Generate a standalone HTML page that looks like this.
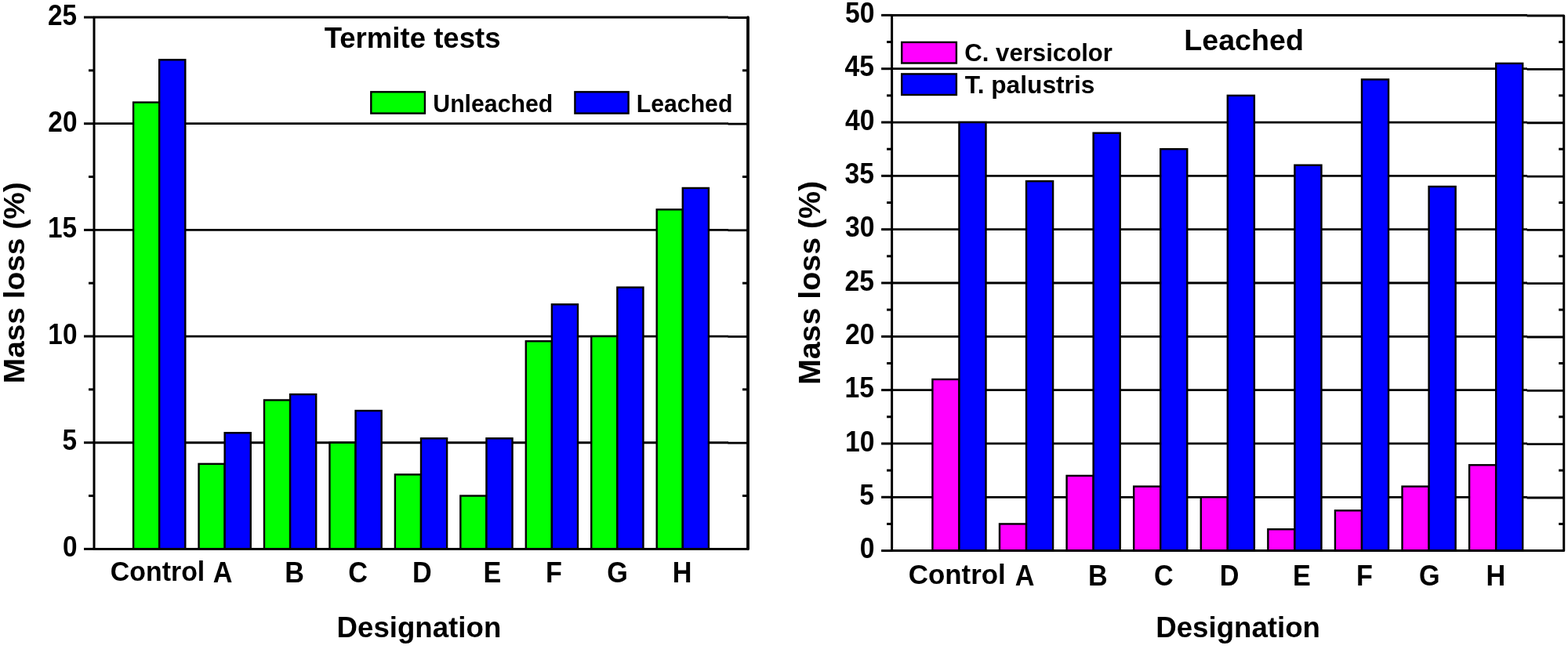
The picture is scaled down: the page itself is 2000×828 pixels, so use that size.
<!DOCTYPE html><html><head><meta charset="utf-8"><title>Mass loss charts</title><style>html,body{margin:0;padding:0;background:#fff;overflow:hidden}svg{display:block}text{font-family:"Liberation Sans",Arial,sans-serif;font-weight:bold;fill:#000}</style></head><body>
<svg width="2000" height="828" viewBox="0 0 2000 828">
<rect width="2000" height="828" fill="#fff"/>
<line x1="120" y1="564.73" x2="929" y2="564.73" stroke="#000" stroke-width="2.8"/>
<line x1="928.5" y1="565.13" x2="954.0" y2="565.13" stroke="#000" stroke-width="2.8"/>
<line x1="120" y1="429.06" x2="929" y2="429.06" stroke="#000" stroke-width="2.8"/>
<line x1="928.5" y1="429.46" x2="954.0" y2="429.46" stroke="#000" stroke-width="2.8"/>
<line x1="120" y1="293.39" x2="929" y2="293.39" stroke="#000" stroke-width="2.8"/>
<line x1="928.5" y1="293.79" x2="954.0" y2="293.79" stroke="#000" stroke-width="2.8"/>
<line x1="120" y1="157.72" x2="929" y2="157.72" stroke="#000" stroke-width="2.8"/>
<line x1="928.5" y1="158.12" x2="954.0" y2="158.12" stroke="#000" stroke-width="2.8"/>
<rect x="170.10" y="130.59" width="33.10" height="569.81" fill="#00ff00" stroke="#000" stroke-width="2.4"/>
<rect x="203.20" y="76.32" width="33.10" height="624.08" fill="#0000ff" stroke="#000" stroke-width="2.4"/>
<rect x="253.55" y="591.86" width="33.10" height="108.54" fill="#00ff00" stroke="#000" stroke-width="2.4"/>
<rect x="286.65" y="552.25" width="33.10" height="148.15" fill="#0000ff" stroke="#000" stroke-width="2.4"/>
<rect x="337.00" y="510.46" width="33.10" height="189.94" fill="#00ff00" stroke="#000" stroke-width="2.4"/>
<rect x="370.10" y="503.14" width="33.10" height="197.26" fill="#0000ff" stroke="#000" stroke-width="2.4"/>
<rect x="420.45" y="564.73" width="33.10" height="135.67" fill="#00ff00" stroke="#000" stroke-width="2.4"/>
<rect x="453.55" y="524.03" width="33.10" height="176.37" fill="#0000ff" stroke="#000" stroke-width="2.4"/>
<rect x="503.90" y="605.43" width="33.10" height="94.97" fill="#00ff00" stroke="#000" stroke-width="2.4"/>
<rect x="537.00" y="559.30" width="33.10" height="141.10" fill="#0000ff" stroke="#000" stroke-width="2.4"/>
<rect x="587.35" y="632.56" width="33.10" height="67.84" fill="#00ff00" stroke="#000" stroke-width="2.4"/>
<rect x="620.45" y="559.30" width="33.10" height="141.10" fill="#0000ff" stroke="#000" stroke-width="2.4"/>
<rect x="670.80" y="435.30" width="33.10" height="265.10" fill="#00ff00" stroke="#000" stroke-width="2.4"/>
<rect x="703.90" y="388.36" width="33.10" height="312.04" fill="#0000ff" stroke="#000" stroke-width="2.4"/>
<rect x="754.25" y="429.06" width="33.10" height="271.34" fill="#00ff00" stroke="#000" stroke-width="2.4"/>
<rect x="787.35" y="366.65" width="33.10" height="333.75" fill="#0000ff" stroke="#000" stroke-width="2.4"/>
<rect x="837.70" y="267.34" width="33.10" height="433.06" fill="#00ff00" stroke="#000" stroke-width="2.4"/>
<rect x="870.80" y="239.94" width="33.10" height="460.46" fill="#0000ff" stroke="#000" stroke-width="2.4"/>
<path d="M929.00,22.05 H120 V700.40 H954.0 V22.45 H928.50" fill="none" stroke="#000" stroke-width="3.0" stroke-linejoin="round"/>
<line x1="954.0" y1="22.05" x2="954.0" y2="700.40" stroke="#000" stroke-width="3.6" stroke-linecap="round"/>
<line x1="107" y1="700.40" x2="120" y2="700.40" stroke="#000" stroke-width="3.0"/>
<line x1="113" y1="632.56" x2="120" y2="632.56" stroke="#000" stroke-width="3.0"/>
<line x1="947.0" y1="632.56" x2="954.0" y2="632.56" stroke="#000" stroke-width="3.0"/>
<line x1="107" y1="564.73" x2="120" y2="564.73" stroke="#000" stroke-width="3.0"/>
<line x1="113" y1="496.89" x2="120" y2="496.89" stroke="#000" stroke-width="3.0"/>
<line x1="947.0" y1="496.89" x2="954.0" y2="496.89" stroke="#000" stroke-width="3.0"/>
<line x1="107" y1="429.06" x2="120" y2="429.06" stroke="#000" stroke-width="3.0"/>
<line x1="113" y1="361.22" x2="120" y2="361.22" stroke="#000" stroke-width="3.0"/>
<line x1="947.0" y1="361.22" x2="954.0" y2="361.22" stroke="#000" stroke-width="3.0"/>
<line x1="107" y1="293.39" x2="120" y2="293.39" stroke="#000" stroke-width="3.0"/>
<line x1="113" y1="225.55" x2="120" y2="225.55" stroke="#000" stroke-width="3.0"/>
<line x1="947.0" y1="225.55" x2="954.0" y2="225.55" stroke="#000" stroke-width="3.0"/>
<line x1="107" y1="157.72" x2="120" y2="157.72" stroke="#000" stroke-width="3.0"/>
<line x1="113" y1="89.88" x2="120" y2="89.88" stroke="#000" stroke-width="3.0"/>
<line x1="947.0" y1="89.88" x2="954.0" y2="89.88" stroke="#000" stroke-width="3.0"/>
<line x1="107" y1="22.05" x2="120" y2="22.05" stroke="#000" stroke-width="3.0"/>
<text transform="translate(80.07,710.19) scale(1,1.1100)" font-size="33.40">0</text>
<text transform="translate(79.40,574.34) scale(1,1.1100)" font-size="33.40">5</text>
<text transform="translate(61.36,438.85) scale(1,1.1100)" font-size="33.40">10</text>
<text transform="translate(61.03,303.00) scale(1,1.1100)" font-size="33.40">15</text>
<text transform="translate(61.36,167.51) scale(1,1.1100)" font-size="33.40">20</text>
<text transform="translate(61.03,31.84) scale(1,1.1100)" font-size="33.40">25</text>
<text transform="translate(140.85,740.75) scale(1,1.0335)" font-size="33.87">Control</text>
<text transform="translate(271.79,742.65) scale(1,1.0700)" font-size="34.20">A</text>
<text transform="translate(363.28,742.65) scale(1,1.0700)" font-size="34.20">B</text>
<text transform="translate(444.22,743.02) scale(1,1.0700)" font-size="34.20">C</text>
<text transform="translate(525.97,742.65) scale(1,1.0700)" font-size="34.20">D</text>
<text transform="translate(616.53,742.65) scale(1,1.0700)" font-size="34.20">E</text>
<text transform="translate(695.96,742.65) scale(1,1.0700)" font-size="34.20">F</text>
<text transform="translate(774.30,743.02) scale(1,1.0700)" font-size="34.20">G</text>
<text transform="translate(857.69,742.65) scale(1,1.0700)" font-size="34.20">H</text>
<text transform="translate(429.53,813.07) scale(1,1.0037)" font-size="36.67">Designation</text>
<text transform="translate(31.24,489.22) rotate(-90) scale(1,0.9636)" font-size="38.86">Mass loss (%)</text>
<text transform="translate(413.63,61.02) scale(1,1.0341)" font-size="36.59">Termite tests</text>
<rect x="473.3" y="117.3" width="68.6" height="27.3" fill="#00ff00" stroke="#000" stroke-width="2.4"/>
<text transform="translate(552.28,143.19) scale(1,1.0315)" font-size="30.26">Unleached</text>
<rect x="733.4" y="117.3" width="68.2" height="27.3" fill="#0000ff" stroke="#000" stroke-width="2.4"/>
<text transform="translate(811.78,143.19) scale(1,1.0237)" font-size="30.23">Leached</text>
<line x1="1137.6" y1="634.28" x2="1948" y2="634.28" stroke="#000" stroke-width="2.8"/>
<line x1="1947.5" y1="634.98" x2="1994.7" y2="634.98" stroke="#000" stroke-width="2.8"/>
<line x1="1137.6" y1="565.96" x2="1948" y2="565.96" stroke="#000" stroke-width="2.8"/>
<line x1="1947.5" y1="566.66" x2="1994.7" y2="566.66" stroke="#000" stroke-width="2.8"/>
<line x1="1137.6" y1="497.64" x2="1948" y2="497.64" stroke="#000" stroke-width="2.8"/>
<line x1="1947.5" y1="498.34" x2="1994.7" y2="498.34" stroke="#000" stroke-width="2.8"/>
<line x1="1137.6" y1="429.32" x2="1948" y2="429.32" stroke="#000" stroke-width="2.8"/>
<line x1="1947.5" y1="430.02" x2="1994.7" y2="430.02" stroke="#000" stroke-width="2.8"/>
<line x1="1137.6" y1="361.00" x2="1948" y2="361.00" stroke="#000" stroke-width="2.8"/>
<line x1="1947.5" y1="361.70" x2="1994.7" y2="361.70" stroke="#000" stroke-width="2.8"/>
<line x1="1137.6" y1="292.68" x2="1948" y2="292.68" stroke="#000" stroke-width="2.8"/>
<line x1="1947.5" y1="293.38" x2="1994.7" y2="293.38" stroke="#000" stroke-width="2.8"/>
<line x1="1137.6" y1="224.36" x2="1948" y2="224.36" stroke="#000" stroke-width="2.8"/>
<line x1="1947.5" y1="225.06" x2="1994.7" y2="225.06" stroke="#000" stroke-width="2.8"/>
<line x1="1137.6" y1="156.04" x2="1948" y2="156.04" stroke="#000" stroke-width="2.8"/>
<line x1="1947.5" y1="156.74" x2="1994.7" y2="156.74" stroke="#000" stroke-width="2.8"/>
<line x1="1137.6" y1="87.72" x2="1948" y2="87.72" stroke="#000" stroke-width="2.8"/>
<line x1="1947.5" y1="88.42" x2="1994.7" y2="88.42" stroke="#000" stroke-width="2.8"/>
<rect x="1189.40" y="483.98" width="34.05" height="218.62" fill="#ff00ff" stroke="#000" stroke-width="2.4"/>
<rect x="1223.45" y="156.04" width="34.05" height="546.56" fill="#0000ff" stroke="#000" stroke-width="2.4"/>
<rect x="1274.99" y="668.44" width="34.05" height="34.16" fill="#ff00ff" stroke="#000" stroke-width="2.4"/>
<rect x="1309.04" y="231.19" width="34.05" height="471.41" fill="#0000ff" stroke="#000" stroke-width="2.4"/>
<rect x="1360.58" y="606.95" width="34.05" height="95.65" fill="#ff00ff" stroke="#000" stroke-width="2.4"/>
<rect x="1394.63" y="169.70" width="34.05" height="532.90" fill="#0000ff" stroke="#000" stroke-width="2.4"/>
<rect x="1446.17" y="620.62" width="34.05" height="81.98" fill="#ff00ff" stroke="#000" stroke-width="2.4"/>
<rect x="1480.22" y="190.20" width="34.05" height="512.40" fill="#0000ff" stroke="#000" stroke-width="2.4"/>
<rect x="1531.76" y="634.28" width="34.05" height="68.32" fill="#ff00ff" stroke="#000" stroke-width="2.4"/>
<rect x="1565.81" y="121.88" width="34.05" height="580.72" fill="#0000ff" stroke="#000" stroke-width="2.4"/>
<rect x="1617.35" y="675.27" width="34.05" height="27.33" fill="#ff00ff" stroke="#000" stroke-width="2.4"/>
<rect x="1651.40" y="210.70" width="34.05" height="491.90" fill="#0000ff" stroke="#000" stroke-width="2.4"/>
<rect x="1702.94" y="651.36" width="34.05" height="51.24" fill="#ff00ff" stroke="#000" stroke-width="2.4"/>
<rect x="1736.99" y="101.38" width="34.05" height="601.22" fill="#0000ff" stroke="#000" stroke-width="2.4"/>
<rect x="1788.53" y="620.62" width="34.05" height="81.98" fill="#ff00ff" stroke="#000" stroke-width="2.4"/>
<rect x="1822.58" y="238.02" width="34.05" height="464.58" fill="#0000ff" stroke="#000" stroke-width="2.4"/>
<rect x="1874.12" y="593.29" width="34.05" height="109.31" fill="#ff00ff" stroke="#000" stroke-width="2.4"/>
<rect x="1908.17" y="80.89" width="34.05" height="621.71" fill="#0000ff" stroke="#000" stroke-width="2.4"/>
<path d="M1948.00,19.40 H1137.6 V702.60 H1994.7 V20.10 H1947.50" fill="none" stroke="#000" stroke-width="3.0" stroke-linejoin="round"/>
<line x1="1124.1" y1="702.60" x2="1137.6" y2="702.60" stroke="#000" stroke-width="3.0"/>
<line x1="1131.1" y1="668.44" x2="1137.6" y2="668.44" stroke="#000" stroke-width="3.0"/>
<line x1="1988.2" y1="668.44" x2="1994.7" y2="668.44" stroke="#000" stroke-width="3.0"/>
<line x1="1124.1" y1="634.28" x2="1137.6" y2="634.28" stroke="#000" stroke-width="3.0"/>
<line x1="1131.1" y1="600.12" x2="1137.6" y2="600.12" stroke="#000" stroke-width="3.0"/>
<line x1="1988.2" y1="600.12" x2="1994.7" y2="600.12" stroke="#000" stroke-width="3.0"/>
<line x1="1124.1" y1="565.96" x2="1137.6" y2="565.96" stroke="#000" stroke-width="3.0"/>
<line x1="1131.1" y1="531.80" x2="1137.6" y2="531.80" stroke="#000" stroke-width="3.0"/>
<line x1="1988.2" y1="531.80" x2="1994.7" y2="531.80" stroke="#000" stroke-width="3.0"/>
<line x1="1124.1" y1="497.64" x2="1137.6" y2="497.64" stroke="#000" stroke-width="3.0"/>
<line x1="1131.1" y1="463.48" x2="1137.6" y2="463.48" stroke="#000" stroke-width="3.0"/>
<line x1="1988.2" y1="463.48" x2="1994.7" y2="463.48" stroke="#000" stroke-width="3.0"/>
<line x1="1124.1" y1="429.32" x2="1137.6" y2="429.32" stroke="#000" stroke-width="3.0"/>
<line x1="1131.1" y1="395.16" x2="1137.6" y2="395.16" stroke="#000" stroke-width="3.0"/>
<line x1="1988.2" y1="395.16" x2="1994.7" y2="395.16" stroke="#000" stroke-width="3.0"/>
<line x1="1124.1" y1="361.00" x2="1137.6" y2="361.00" stroke="#000" stroke-width="3.0"/>
<line x1="1131.1" y1="326.84" x2="1137.6" y2="326.84" stroke="#000" stroke-width="3.0"/>
<line x1="1988.2" y1="326.84" x2="1994.7" y2="326.84" stroke="#000" stroke-width="3.0"/>
<line x1="1124.1" y1="292.68" x2="1137.6" y2="292.68" stroke="#000" stroke-width="3.0"/>
<line x1="1131.1" y1="258.52" x2="1137.6" y2="258.52" stroke="#000" stroke-width="3.0"/>
<line x1="1988.2" y1="258.52" x2="1994.7" y2="258.52" stroke="#000" stroke-width="3.0"/>
<line x1="1124.1" y1="224.36" x2="1137.6" y2="224.36" stroke="#000" stroke-width="3.0"/>
<line x1="1131.1" y1="190.20" x2="1137.6" y2="190.20" stroke="#000" stroke-width="3.0"/>
<line x1="1988.2" y1="190.20" x2="1994.7" y2="190.20" stroke="#000" stroke-width="3.0"/>
<line x1="1124.1" y1="156.04" x2="1137.6" y2="156.04" stroke="#000" stroke-width="3.0"/>
<line x1="1131.1" y1="121.88" x2="1137.6" y2="121.88" stroke="#000" stroke-width="3.0"/>
<line x1="1988.2" y1="121.88" x2="1994.7" y2="121.88" stroke="#000" stroke-width="3.0"/>
<line x1="1124.1" y1="87.72" x2="1137.6" y2="87.72" stroke="#000" stroke-width="3.0"/>
<line x1="1131.1" y1="53.56" x2="1137.6" y2="53.56" stroke="#000" stroke-width="3.0"/>
<line x1="1988.2" y1="53.56" x2="1994.7" y2="53.56" stroke="#000" stroke-width="3.0"/>
<line x1="1124.1" y1="19.40" x2="1137.6" y2="19.40" stroke="#000" stroke-width="3.0"/>
<text transform="translate(1096.81,712.31) scale(1,1.1100)" font-size="33.70">0</text>
<text transform="translate(1096.14,643.80) scale(1,1.1100)" font-size="33.70">5</text>
<text transform="translate(1077.94,575.67) scale(1,1.1100)" font-size="33.70">10</text>
<text transform="translate(1077.60,507.16) scale(1,1.1100)" font-size="33.70">15</text>
<text transform="translate(1077.94,439.03) scale(1,1.1100)" font-size="33.70">20</text>
<text transform="translate(1077.60,370.71) scale(1,1.1100)" font-size="33.70">25</text>
<text transform="translate(1077.94,302.39) scale(1,1.1100)" font-size="33.70">30</text>
<text transform="translate(1077.60,234.07) scale(1,1.1100)" font-size="33.70">35</text>
<text transform="translate(1077.94,165.75) scale(1,1.1100)" font-size="33.70">40</text>
<text transform="translate(1077.60,97.24) scale(1,1.1100)" font-size="33.70">45</text>
<text transform="translate(1077.94,29.11) scale(1,1.1100)" font-size="33.70">50</text>
<text transform="translate(1158.70,745.00) scale(1,1.0102)" font-size="34.91">Control</text>
<text transform="translate(1294.64,746.55) scale(1,1.0700)" font-size="34.20">A</text>
<text transform="translate(1388.02,746.55) scale(1,1.0700)" font-size="34.20">B</text>
<text transform="translate(1471.92,746.92) scale(1,1.0700)" font-size="34.20">C</text>
<text transform="translate(1555.77,746.55) scale(1,1.0700)" font-size="34.20">D</text>
<text transform="translate(1648.88,746.55) scale(1,1.0700)" font-size="34.20">E</text>
<text transform="translate(1729.91,746.55) scale(1,1.0700)" font-size="34.20">F</text>
<text transform="translate(1809.90,746.92) scale(1,1.0700)" font-size="34.20">G</text>
<text transform="translate(1895.39,746.55) scale(1,1.0700)" font-size="34.20">H</text>
<text transform="translate(1474.23,813.07) scale(1,1.0037)" font-size="36.67">Designation</text>
<text transform="translate(1046.30,491.06) rotate(-90) scale(1,0.9676)" font-size="39.36">Mass loss (%)</text>
<text transform="translate(1510.26,63.92) scale(1,0.9959)" font-size="37.65">Leached</text>
<rect x="1150.2" y="53.9" width="69.7" height="26.6" fill="#ff00ff" stroke="#000" stroke-width="2.4"/>
<text transform="translate(1230.25,78.19) scale(1,0.9973)" font-size="31.17">C. versicolor</text>
<rect x="1150.2" y="94.4" width="69.7" height="26.6" fill="#0000ff" stroke="#000" stroke-width="2.4"/>
<text transform="translate(1230.78,119.11) scale(1,0.9742)" font-size="31.72">T. palustris</text>
</svg></body></html>
